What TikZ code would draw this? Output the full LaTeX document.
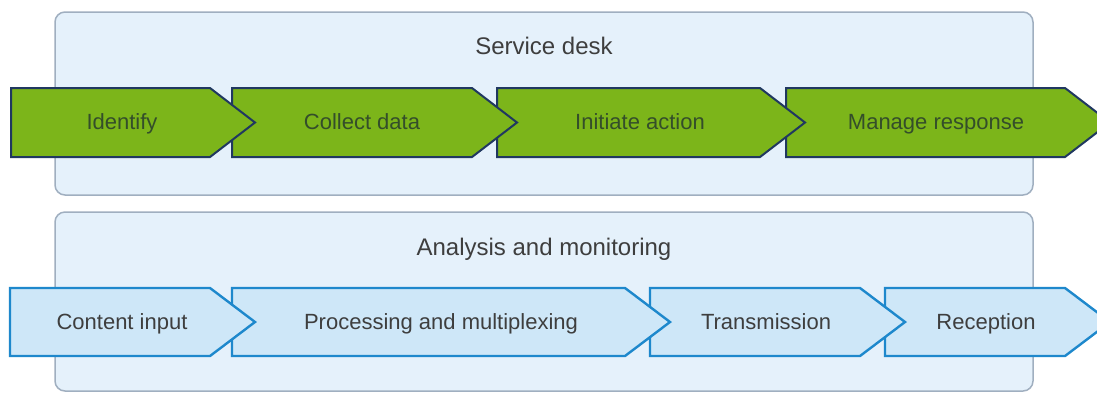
\documentclass[tikz,border=0pt]{standalone}
\usepackage{fontspec}
\setmainfont{Liberation Sans}
\usepackage{tikz}

\definecolor{panelfill}{RGB}{229,241,251}
\definecolor{paneledge}{RGB}{160,175,192}
\definecolor{leafgreen}{RGB}{124,181,26}
\definecolor{navyedge}{RGB}{32,56,96}
\definecolor{greentxt}{RGB}{52,78,42}
\definecolor{skyfill}{RGB}{206,231,248}
\definecolor{skyedge}{RGB}{30,136,204}
\definecolor{skytxt}{RGB}{62,62,62}

\begin{document}
\begin{tikzpicture}[x=0.5pt,y=-0.5pt,
		panel/.style={draw=paneledge,fill=panelfill,line width=0.75pt,rounded corners=5pt},
		paneltitle/.style={font=\fontsize{12}{14}\selectfont,text=skytxt,text height=1.6ex,text depth=.4ex},
		greenstep/.style={draw=navyedge,fill=leafgreen,line width=1pt},
		greenlabel/.style={font=\fontsize{11}{13}\selectfont,text=greentxt,text height=1.6ex,text depth=.4ex},
		skystep/.style={draw=skyedge,fill=skyfill,line width=1.2pt},
		skylabel/.style={font=\fontsize{11}{13}\selectfont,text=skytxt,text height=1.6ex,text depth=.4ex}]
			\useasboundingbox (0,0) rectangle (1097,393);
			\fill[white] (0,0) rectangle (1097,393);
			\draw[panel] (55,12) rectangle (1033,195);
			\draw[panel] (55,212) rectangle (1033,391);
			\node[paneltitle] (servicedesk) at (544,48) {Service desk};
			\node[paneltitle] (analysis) at (544,249) {Analysis and monitoring};
			\foreach \xa/\xb/\xt/\lbl/\nm in {786/1065/936/Manage response/manage,
				497/760/640/Initiate action/initiate,
				232/472/362/Collect data/collect,
				11/210/122/Identify/identify} {
				\draw[greenstep] (\xa,88) -- (\xb,88) -- (\xb+45,122.5) -- (\xb,157) -- (\xa,157) -- cycle;
				\node[greenlabel] (\nm) at (\xt,123) {\lbl};
			}
			\foreach \xa/\xb/\xt/\lbl/\nm in {885/1065/986/Reception/reception,
				650/860/766/Transmission/transmission,
				232/625/441/Processing and multiplexing/processing,
				10/210/122/Content input/content} {
				\draw[skystep] (\xa,288) -- (\xb,288) -- (\xb+45,322) -- (\xb,356) -- (\xa,356) -- cycle;
				\node[skylabel] (\nm) at (\xt,323) {\lbl};
			}
\end{tikzpicture}
\end{document}
